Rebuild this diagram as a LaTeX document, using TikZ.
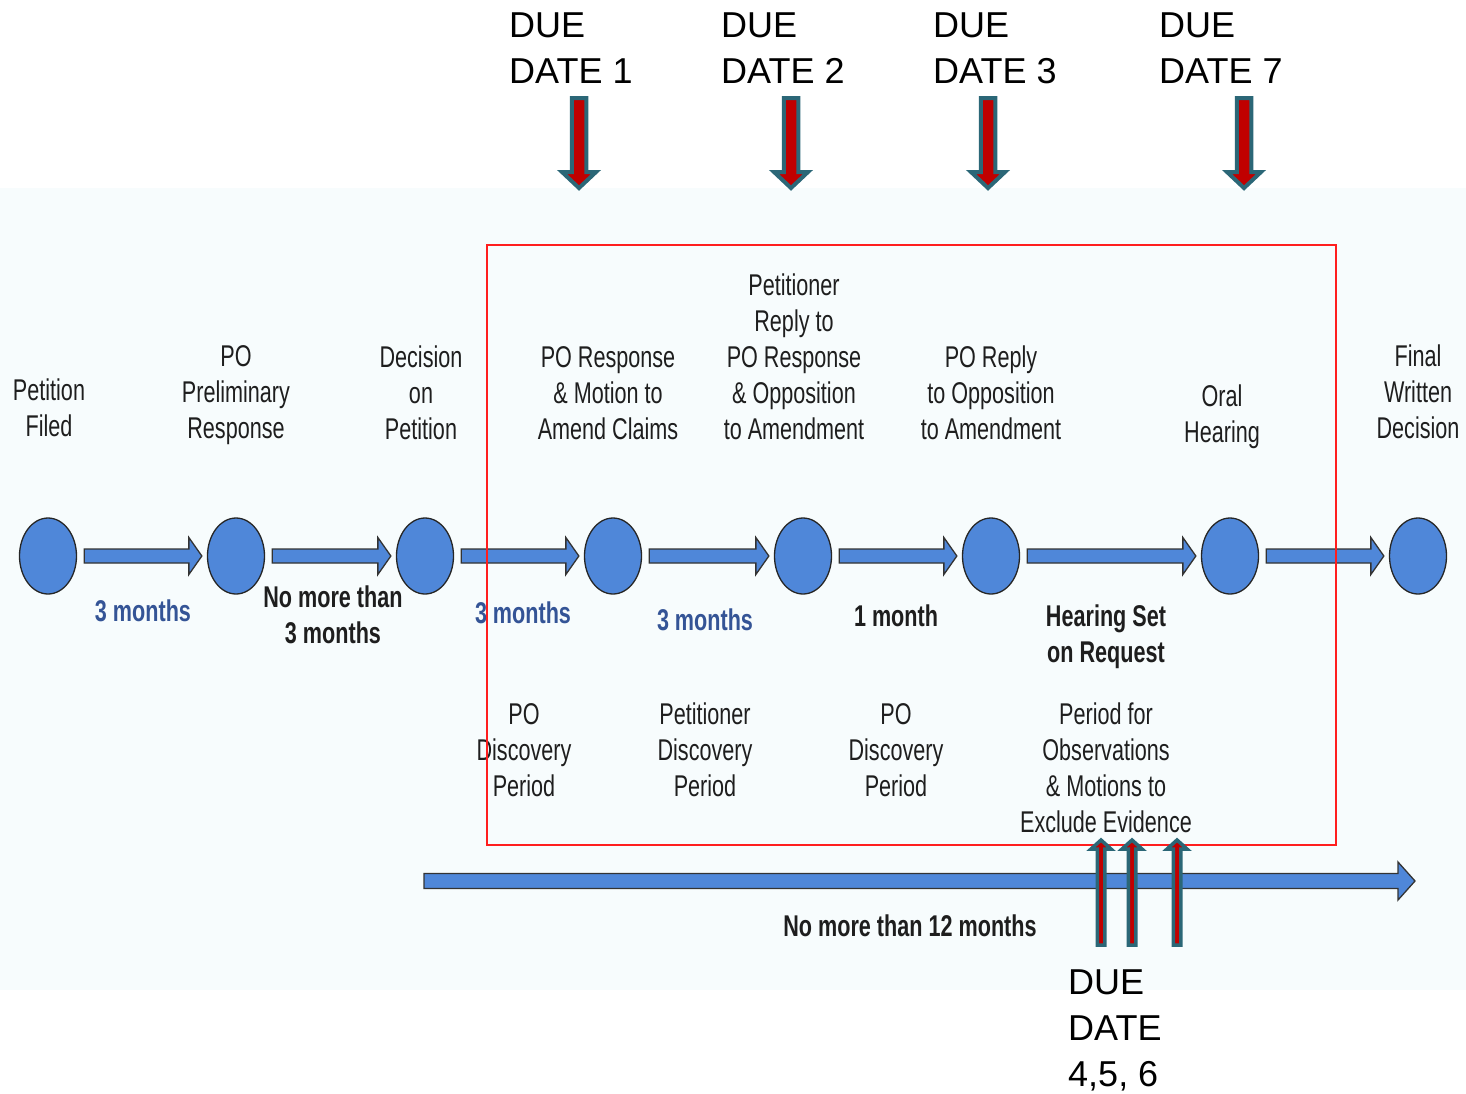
\documentclass[tikz,border=0pt]{standalone}
\usepackage{fontspec}
\setmainfont{Liberation Sans}
\newfontfamily\narrowfont[FakeStretch=0.72]{Liberation Sans}
\usetikzlibrary{shapes.geometric,calc}

\definecolor{bgazure}{RGB}{247,252,253}
\definecolor{evblue}{RGB}{79,135,217}
\definecolor{monthblue}{RGB}{52,84,150}
\definecolor{duered}{RGB}{192,0,0}
\definecolor{dueteal}{RGB}{43,103,119}
\definecolor{boxred}{RGB}{255,30,30}
\definecolor{labelgray}{RGB}{30,30,30}

% block arrow: [style]{tail}{tip}{half shaft}{half head}{head length}
\newcommand\blockarrow[6][]{%
  \draw[#1] ($(#2)!#4!90:(#3)$) -- ($(#3)!#6!(#2)!#4!-90:(#2)$)
    -- ($(#3)!#6!(#2)!#5!-90:(#2)$) -- (#3)
    -- ($(#3)!#6!(#2)!#5!90:(#2)$) -- ($(#3)!#6!(#2)!#4!90:(#2)$)
    -- ($(#2)!#4!-90:(#3)$) -- cycle;}

\tikzset{
  event/.style={ellipse, draw=black!85, line width=1.3pt, fill=evblue,
    minimum width=57pt, minimum height=76pt, inner sep=0pt},
  evtext/.style={font=\narrowfont\fontsize{30}{36}\selectfont, align=center,
    text=labelgray, inner sep=0pt},
  gaptext/.style={evtext, font=\narrowfont\bfseries\fontsize{30}{36}\selectfont},
  monthtext/.style={gaptext, text=monthblue},
  duetext/.style={font=\fontsize{36}{46}\selectfont, align=left, anchor=west,
    inner sep=0pt},
  blockarr/.style={draw=black!80, line width=1.3pt, fill=evblue, line join=miter},
  duearr/.style={draw=dueteal, line width=4pt, fill=duered, line join=miter}
}

\begin{document}
\begin{tikzpicture}[x=1pt,y=-1pt]
\useasboundingbox (0,0) rectangle (1466,1093);
\fill[bgazure] (0,188) rectangle (1466,990);

% events
\node[event] (c1) at (48,556) {};
\node[event] (c2) at (236,556) {};
\node[event] (c3) at (425,556) {};
\node[event] (c4) at (613,556) {};
\node[event] (c5) at (803,556) {};
\node[event] (c6) at (991,556) {};
\node[event] (c7) at (1230,556) {};
\node[event] (c8) at (1418,556) {};

\foreach \a/\b in {c1/c2,c2/c3,c3/c4,c4/c5,c5/c6,c6/c7,c7/c8}{
  \coordinate (\a-out) at ([xshift=7pt]\a.east);
  \coordinate (\b-in) at ([xshift=-5pt]\b.west);
  \blockarrow[blockarr]{\a-out}{\b-in}{7pt}{18.5pt}{13pt}
}

% labels above
\node[evtext] (t1) at (49,408) {Petition\\Filed};
\node[evtext] (t2) at (236,395) {PO\\Preliminary\\Response};
\node[evtext] (t3) at (421,393) {Decision\\on\\Petition};
\node[evtext] (t4) at (608,393) {PO Response\\\& Motion to\\Amend Claims};
\node[evtext] (t5) at (794,357) {Petitioner\\Reply to\\PO Response\\\& Opposition\\to Amendment};
\node[evtext] (t6) at (991,393) {PO Reply\\to Opposition\\to Amendment};
\node[evtext] (t7) at (1222,417) {Oral\\Hearing};
\node[evtext] (t8) at (1418,392) {Final\\Written\\Decision};

% durations
\node[monthtext] (g1) at (143,611) {3 months};
\node[gaptext] (g2) at (333,615) {No more than\\3 months};
\node[monthtext] (g3) at (523,613) {3 months};
\node[monthtext] (g4) at (705,620) {3 months};
\node[gaptext] (g5) at (896,616) {1 month};
\node[gaptext] (g6) at (1106,637) {Hearing Set\\on Request};

% periods
\node[evtext] (p1) at (524,750) {PO\\Discovery\\Period};
\node[evtext] (p2) at (705,750) {Petitioner\\Discovery\\Period};
\node[evtext] (p3) at (896,750) {PO\\Discovery\\Period};
\node[evtext] (p4) at (1106,768) {Period for\\Observations\\\& Motions to\\Exclude Evidence};

\draw[boxred, line width=2pt] (487,245) rectangle (1336,845);

% overall span
\coordinate (span-start) at (424,881);
\coordinate (span-end) at (1415,881);
\blockarrow[blockarr]{span-start}{span-end}{7.5pt}{19pt}{17pt}
\node[gaptext] (span) at (910,926) {No more than 12 months};

% due dates
\node[duetext] (due1) at (509,48) {DUE\\DATE 1};
\node[duetext] (due2) at (721,48) {DUE\\DATE 2};
\node[duetext] (due3) at (933,48) {DUE\\DATE 3};
\node[duetext] (due7) at (1159,48) {DUE\\DATE 7};
\node[duetext] (due456) at (1068,1030) {DUE\\DATE\\4,5, 6};

\foreach \n/\x in {1/579,2/791,3/988,7/1244}{
  \coordinate (d\n-tail) at (\x,98);
  \coordinate (d\n-tip) at (\x,188);
  \blockarrow[duearr]{d\n-tail}{d\n-tip}{7.25pt}{17pt}{16pt}
}
\foreach \n/\x in {4/1101,5/1132,6/1177}{
  \coordinate (d\n-tail) at (\x,945);
  \coordinate (d\n-tip) at (\x,840);
  \blockarrow[duearr, line width=3.5pt]{d\n-tail}{d\n-tip}{3.75pt}{10pt}{9pt}
}
\end{tikzpicture}
\end{document}
